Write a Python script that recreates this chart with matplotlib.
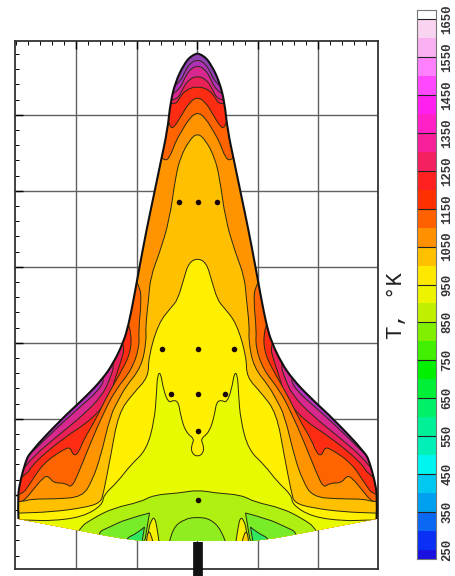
#!/usr/bin/python3

import numpy as np
import matplotlib
matplotlib.use('Agg')
import matplotlib.pyplot as plt
from matplotlib.colors import BoundaryNorm, ListedColormap
from matplotlib.patches import PathPatch
from matplotlib.path import Path

plt.rcParams['font.family'] = ['Liberation Mono', 'DejaVu Sans']

#################################################
# DATA (half outlines: distance from centerline, station)
#################################################
center = 197.5

grid_x = [76, 137, 197, 258, 318]
grid_y = [115, 191, 267, 343, 419, 495]

body_edge = [(0, 53.5), (6, 55), (14, 65), (22, 82), (27, 102), (30, 130), (37, 163), (43, 192), (51, 230),
             (58, 267), (64, 300), (69, 325), (74, 342), (84, 363), (95, 379), (112, 397), (137, 420), (168, 453),
             (172, 462), (177, 480), (180, 497), (179, 519)]
trailing_edge = [(179, 519), (121, 530), (64, 541), (30, 541), (0, 541)]

T1500 = [(0, 60), (6, 62), (12, 70), (17, 82), (40, 100), (120, 350), (100, 376), (107, 392), (130, 410), (160, 440), (176, 456), (200, 456)]
T1450 = [(0, 66), (6, 68), (12, 76), (18, 90), (35, 100), (110, 360), (92, 376), (98, 390), (121, 410), (145, 432), (166, 453), (178, 462), (200, 462)]
T1350 = [(0, 76), (8, 79), (14, 87), (20, 100), (35, 100), (100, 340), (82, 362), (88, 380), (95, 395), (113, 414), (140, 436), (165, 457), (176, 472), (200, 472)]
T1250 = [(0, 86), (12, 90), (18, 98), (22, 105), (40, 100), (85, 330), (72, 345), (77, 363), (83, 380), (87, 397), (106, 420), (134, 438), (164, 463),
         (172, 477), (200, 490)]
T1150 = [(0, 97), (8, 102), (17, 117), (23, 127), (27, 128), (29, 120), (45, 110), (90, 300), (71, 320), (66, 333), (67, 353), (77, 373), (91, 397),
         (102, 420), (114, 440), (119, 453), (124, 456), (127, 448), (132, 448), (154, 463), (167, 483), (177, 497), (200, 497)]
T1100 = [(0, 112), (8, 118), (17, 133), (22, 142), (28, 158), (33, 161), (45, 150), (80, 250), (58, 285), (56, 300), (59, 330), (58, 347), (66, 370), (82, 390),
         (94, 413), (107, 443), (119, 473), (126, 488), (132, 483), (144, 483), (149, 476), (154, 477), (167, 493), (172, 499), (178, 503), (200, 503)]
T1050 = [(0, 133), (8, 140), (17, 157), (22, 177), (28, 220), (38, 253), (47, 277), (49, 300), (52, 327), (51, 340), (56, 367), (72, 387), (79, 400), (87, 415),
         (97, 457), (105, 480), (115, 497), (142, 499), (167, 499), (175, 502), (200, 502)]
T1000 = [(0, 258), (9, 263), (14, 280), (20, 300), (26, 307), (39, 323), (49, 357), (49, 377), (64, 393), (79, 413), (87, 457), (94, 493), (97, 503),
         (115, 508), (147, 512), (177, 513), (200, 514)]
T950 = [(0, 457), (6, 453), (6, 445), (3, 439), (12, 432), (17, 415), (19, 402), (24, 400), (29, 403), (34, 390), (37, 372), (40, 375), (41, 393), (43, 420),
        (51, 450), (67, 465), (80, 482), (94, 495), (95, 505), (115, 517), (147, 521), (167, 520), (185, 520)]
T900 = [(0, 490), (18, 493), (44, 495), (57, 502), (84, 508), (104, 518), (120, 529), (124, 545)]

center_patch = [(-28, 542), (-25, 528), (-13, 519), (0, 517), (13, 519), (24, 530), (28, 542)]
side_patch = [(48, 513), (71, 519), (88, 527), (101, 533), (90, 545), (52, 545), (52, 537)]
inner_patch = [(53, 527), (60, 533), (71, 538), (72, 545), (56, 545)]
spike_patch = [(38, 545), (40, 530), (43, 516), (47, 522), (49, 530), (51, 545)]
spike_core = [(44, 545), (47, 530), (51, 535), (51, 545)]

dots_dx = [-19, 0, 19, -36, 0, 36, -27, 0, 27, 0, 0]
dots_y = [202, 202, 202, 349, 349, 349, 394, 394, 394, 431, 500]

stem_x = [197.5, 197.5]
stem_y = [542, 576]

band_levels = [225, 250, 300, 350, 400, 450, 500, 550, 600, 650, 700, 750, 800, 850, 900, 950, 1000, 1050,
               1100, 1150, 1200, 1250, 1300, 1350, 1400, 1450, 1500, 1550, 1600, 1650, 1675]
band_colors = ['#1a10e0', '#0a30f5', '#0a68f4', '#00a0f0', '#00c8f0', '#00f5f0', '#00f0b8', '#00f098', '#00f068', '#00f038',
               '#00f000', '#40f000', '#80f000', '#c0f000', '#eef400', '#ffe800', '#ffc000', '#ff9000', '#ff6000', '#ff3000',
               '#ff2020', '#f52060', '#f8209a', '#ff20c8', '#ff20f0', '#ff48ff', '#ff80ff', '#f8b0f0', '#f8d4f0', '#ffffff']
line_levels = [350, 450, 550, 650, 750, 850, 950, 1050, 1150, 1250, 1350, 1450, 1550, 1650]
tick_levels = [250, 350, 450, 550, 650, 750, 850, 950, 1050, 1150, 1250, 1350, 1450, 1550, 1650]

#################################################
# FIGURE
#################################################
W, H = 455., 576.


def px_axes(x0, x1, y0, y1):
    return fig.add_axes([x0 / W, 1 - y1 / H, (x1 - x0) / W, (y1 - y0) / H])


def curve(pts):
    # quadratic segments through the midpoints, the read points are the control points
    pts = np.asarray(pts, dtype=float)
    verts = [pts[0]]
    codes = [Path.MOVETO]
    for i in range(1, len(pts) - 1):
        end = pts[-1] if i == len(pts) - 2 else (pts[i] + pts[i + 1]) / 2
        verts += [pts[i], end]
        codes += [Path.CURVE3, Path.CURVE3]
    return verts, codes


def mirrored(half):
    half = np.asarray(half, dtype=float)
    right = np.column_stack([center + half[:, 0], half[:, 1]])
    left = np.column_stack([center - half[:, 0], half[:, 1]])
    if half[0, 0] == 0:
        right = right[1:]
    return np.vstack([left[::-1], right])


def region(half, color, z):
    verts, codes = curve(mirrored(half))
    verts += [(center + 210, 600), (center - 210, 600), verts[0]]
    codes += [Path.LINETO, Path.LINETO, Path.CLOSEPOLY]
    p = PathPatch(Path(verts, codes), facecolor=color, edgecolor='#2a2a10', lw=0.7, zorder=z)
    ax.add_patch(p)
    p.set_clip_path(body)


def patch(points, color, z, both=True):
    pts = np.asarray(points, dtype=float)
    for sign in ([1, -1] if both else [1]):
        verts, codes = curve(np.column_stack([center + sign * pts[:, 0], pts[:, 1]]))
        verts += [verts[0]]
        codes += [Path.CLOSEPOLY]
        p = PathPatch(Path(verts, codes), facecolor=color, edgecolor='#2a2a10', lw=0.7, zorder=z)
        ax.add_patch(p)
        p.set_clip_path(body)


fig = plt.figure(figsize=(W / 100, H / 100), dpi=100)
ax = px_axes(15, 378, 41, 569)
ax.set_xlim(15, 378)
ax.set_ylim(569, 41)

for g in grid_x:
    ax.axvline(g, color='#606060', lw=1, zorder=1)
for g in grid_y:
    ax.axhline(g, color='#606060', lw=1, zorder=1)

ax.set_xticks(grid_x)
ax.set_yticks(grid_y)
ax.set_xticks(np.arange(15.5, 378, 12.1), minor=True)
ax.set_yticks(np.arange(54, 569, 15.2), minor=True)
ax.tick_params(which='major', top=True, bottom=False, left=True, right=False, direction='in', length=6, width=1,
               labelbottom=False, labelleft=False)
ax.tick_params(which='minor', top=True, bottom=False, left=True, right=False, direction='in', length=3, width=0.7)
for s in ax.spines.values():
    s.set_linewidth(1.3)
    s.set_color('#333333')

# body silhouette, filled with the hottest colour
edge = np.array(body_edge, dtype=float)
verts_r, codes_r = curve(np.column_stack([center + edge[:, 0], edge[:, 1]]))
verts_l, codes_l = curve(np.column_stack([center - edge[:, 0], edge[:, 1]]))

back = np.array(trailing_edge, dtype=float)
back_pts = np.vstack([np.column_stack([center + back[:, 0], back[:, 1]]),
                      np.column_stack([center - back[:, 0], back[:, 1]])[::-1][1:]])
verts_b, codes_b = curve(back_pts)
verts_u, codes_u = curve(np.column_stack([center - edge[:, 0], edge[:, 1]])[::-1])
body_verts = verts_r + verts_b[1:] + verts_u[1:] + [verts_r[0]]
body_codes = codes_r + codes_b[1:] + codes_u[1:] + [Path.CLOSEPOLY]
body = PathPatch(Path(body_verts, body_codes), facecolor='#9040b0', edgecolor='none', zorder=2)
ax.add_patch(body)

region(T1500, '#b030b8', 3)
region(T1450, '#d82890', 4)
region(T1350, '#ea2058', 5)
region(T1250, '#ff2c14', 6)
region(T1150, '#ff6400', 7)
region(T1100, '#ff9400', 8)
region(T1050, '#ffc000', 9)
region(T1000, '#fff000', 10)
region(T950, '#e8fa00', 11)
region(T900, '#b0f010', 12)

patch(center_patch, '#90ee20', 13, both=False)
patch(side_patch, '#78ec28', 13)
patch(inner_patch, '#30e860', 14)
patch(spike_patch, '#f4f000', 14)
patch(spike_core, '#ffd000', 15)

# heavy leading edge
ax.add_patch(PathPatch(Path(verts_r, codes_r), facecolor='none', edgecolor='#111111', lw=1.5, zorder=16))
ax.add_patch(PathPatch(Path(verts_l, codes_l), facecolor='none', edgecolor='#111111', lw=1.5, zorder=16))

ax.plot(center + np.array(dots_dx), dots_y, 'o', color='#1a0505', ms=4, mew=0, zorder=17)
ax.plot(stem_x, stem_y, color='#111111', lw=7, solid_capstyle='butt', clip_on=False, zorder=18)

#################################################
# COLOR BAR
#################################################
cax = px_axes(417, 436, 10, 559)
cmap = ListedColormap(band_colors)
norm = BoundaryNorm(band_levels, cmap.N)
cax.pcolormesh([0, 1], band_levels, np.array(band_levels[:-1])[:, None] + 1, cmap=cmap, norm=norm)
cax.hlines(line_levels, 0, 1, color='#222222', lw=0.8)
cax.set_xlim(0, 1)
cax.set_ylim(band_levels[0], band_levels[-1])
cax.set_xticks([])
cax.yaxis.tick_right()
cax.set_yticks(tick_levels)
cax.set_yticklabels([str(t) for t in tick_levels], rotation=90, va='center', fontsize=8.8, fontweight='bold', color='#333333')
cax.tick_params(axis='y', length=0, pad=4)
for s in cax.spines.values():
    s.set_linewidth(0.8)
    s.set_color('#777777')

fig.text(397 / W, 1 - 306 / H, 'T, \N{DEGREE SIGN}K', rotation=90, ha='center', va='center', fontsize=16, color='#222222')

plt.savefig('out.png', dpi=100)
